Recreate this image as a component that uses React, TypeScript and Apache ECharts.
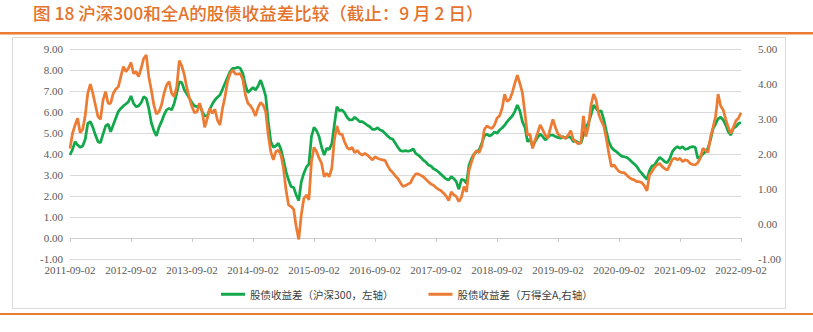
import React, { useEffect, useRef } from "react";
import * as echarts from "echarts";

const titleText = "图 18 沪深300和全A的股债收益差比较（截止：9 月 2 日）";
const seriesNames = ["股债收益差（沪深300，左轴）", "股债收益差（万得全A,右轴）"];
const leftRange = [-1, 9];
const rightRange = [-1, 5];
const labelEvery = 24; // one x label per year (semi-monthly points)

// semi-monthly observation dates from 2011-09-02 to 2022-09-02
const dates: string[] = [];
for (let i = 0; i <= 264; i++) {
  const m = 8 + Math.floor(i / 2);
  const y = 2011 + Math.floor(m / 12);
  const mm = String((m % 12) + 1).padStart(2, "0");
  dates.push(`${y}-${mm}-${i % 2 === 0 ? "02" : "17"}`);
}

// 股债收益差（沪深300，左轴）
const hs300 = [
  3.95, 4.22, 4.59, 4.43, 4.32, 4.38, 4.7, 5.46, 5.54, 5.27, 4.9, 4.59, 4.54, 4.95, 5.33, 5.43, 5.06, 5.38, 5.7, 6.02, 6.17, 6.29, 6.38, 6.49, 6.76,
  6.41, 6.25, 6.29, 6.44, 6.73, 6.65, 6.17, 5.49, 5.11, 4.86, 5.27, 5.54, 5.86, 6.1, 6.17, 6.1, 6.41, 6.89, 7.44, 7.4, 7.05, 6.86, 6.65, 6.44,
  6.29, 6.25, 6.33, 6.02, 5.81, 5.81, 6.13, 6.38, 6.57, 6.7, 6.81, 7.08, 7.37, 7.65, 7.92, 8.08,
  8.08, 8.13, 8.08, 7.84, 7.29, 6.92, 7.05, 7.17, 7.05, 7.24, 7.52, 7.17, 6.76, 5.54, 4.59, 4.32, 4.38, 4.51, 4.22, 3.71, 3.16, 2.76, 2.44, 2.41, 2.05,
  1.78, 2.68, 3.08, 3.37, 3.52, 4.83, 5.27, 5.11, 4.83, 4.32, 3.95, 4.27, 4.22, 4.48, 5.38, 6.25, 6.06, 6.1, 5.97, 5.75, 5.62, 5.62, 5.75, 5.65, 5.54,
  5.54, 5.46, 5.37, 5.3, 5.17, 5.17, 5.25, 5.14, 5.1, 4.98, 4.86, 4.75, 4.7, 4.51, 4.32, 4.16,
  4.13, 4.16, 4.13, 4.16, 4.25, 4.03, 3.95, 3.84, 3.71, 3.62, 3.48, 3.43, 3.3, 3.24, 3.14, 3.03, 2.92, 2.81, 2.76, 2.92, 2.83, 2.68, 2.32, 2.79, 2.76,
  2.6, 3.48, 3.79, 4.0, 4.11, 4.19, 4.51, 4.86, 4.95, 4.86, 4.92, 5.05, 4.98, 5.14, 5.24, 5.37, 5.54, 5.68, 5.81, 6.02, 6.33, 6.06, 5.54, 5.27, 4.59,
  4.7, 4.38, 4.59, 4.79, 4.95, 4.83, 4.67, 4.79, 4.9, 4.9, 4.83, 4.79, 4.75, 4.83, 4.75, 4.83, 4.79, 4.59,
  4.63, 4.54, 4.51, 4.9, 5.27, 5.49, 5.86, 6.33, 6.17, 6.02, 6.06, 5.65, 5.11, 4.59, 4.32, 4.19, 4.11, 4.0, 3.9, 3.87, 3.84, 3.75, 3.63, 3.52, 3.4,
  3.21, 3.08, 2.92, 2.79, 3.21, 3.43, 3.48, 3.68, 3.84, 3.75, 3.63, 3.59, 3.79, 4.11, 4.27, 4.35, 4.27, 4.35, 4.22, 4.25, 4.32, 4.35, 4.32, 3.79, 3.87,
  4.0, 4.1, 4.27, 4.67, 5.21, 5.43, 5.68, 5.75, 5.62, 5.38, 5.06, 4.9, 5.22, 5.3, 5.45, 5.5,
];

// 股债收益差（万得全A,右轴）
const windA = [
  2.16, 2.59, 2.83, 3.02, 2.61, 2.7, 3.11, 3.73, 4.0, 3.73, 3.4, 3.07, 2.99, 3.54, 3.78, 3.45, 3.45, 3.73, 3.85, 3.92, 4.21, 4.5, 4.35, 4.45, 4.61,
  4.3, 4.35, 4.21, 4.45, 4.73, 4.83, 4.21, 3.83, 3.4, 3.14, 3.21, 3.4, 3.73, 3.97, 4.07, 3.73, 3.64, 3.92, 4.67, 4.51, 4.26, 3.88, 3.59, 3.35,
  3.18, 3.21, 3.45, 3.21, 2.76, 3.02, 3.3, 3.16, 3.28, 2.97, 2.83, 3.3, 3.64, 4.07, 4.3, 4.4,
  4.29, 4.28, 4.3, 4.13, 3.69, 3.45, 3.38, 3.26, 3.09, 3.33, 3.47, 3.4, 3.21, 2.54, 2.07, 1.83, 2.07, 2.11, 1.97, 1.59, 0.97, 0.54, 0.5, 0.42, -0.08,
  -0.44, 0.26, 0.73, 0.83, 0.69, 1.78, 2.19, 2.07, 1.88, 1.73, 1.35, 1.45, 1.35, 1.59, 2.4, 2.8, 2.57, 2.57, 2.35, 2.19, 2.13, 2.19, 2.04, 2.1, 2.02,
  1.97, 2.02, 1.97, 1.9, 1.83, 1.92, 1.88, 1.85, 1.83, 1.81, 1.66, 1.54, 1.47, 1.37, 1.3, 1.18,
  1.07, 1.1, 1.14, 1.18, 1.33, 1.43, 1.43, 1.39, 1.35, 1.28, 1.21, 1.14, 1.11, 1.04, 0.99, 0.95, 0.88, 0.8, 0.67, 0.92, 0.83, 0.78, 0.64, 0.76, 1.07,
  0.92, 1.54, 1.78, 2.0, 2.1, 2.04, 2.23, 2.7, 2.8, 2.76, 2.73, 2.83, 3.02, 3.09, 3.3, 3.71, 3.5, 3.56, 3.75, 4.02, 4.25, 4.02, 3.75, 3.16, 2.54,
  2.57, 2.16, 2.4, 2.61, 2.83, 2.69, 2.54, 2.45, 2.73, 2.99, 2.76, 2.57, 2.51, 2.48, 2.45, 2.54, 2.67, 2.42,
  2.35, 2.29, 2.32, 3.09, 2.5, 2.8, 3.4, 3.71, 3.54, 3.14, 2.95, 2.8, 2.45, 2.02, 1.64, 1.69, 1.59, 1.5, 1.47, 1.47, 1.4, 1.33, 1.28, 1.26, 1.21,
  1.21, 1.18, 1.09, 0.95, 1.4, 1.5, 1.62, 1.69, 1.73, 1.64, 1.58, 1.54, 1.69, 1.85, 1.88, 1.83, 1.88, 1.78, 1.83, 1.81, 1.73, 1.7, 1.69, 1.75, 1.88,
  2.16, 2.11, 2.04, 2.48, 2.76, 3.07, 3.71, 3.37, 3.26, 2.99, 2.76, 2.59, 2.76, 2.95, 3.02, 3.18,
];

const GREEN = "#12A84B";
const ORANGE = "#EC7B33";
const TITLE_ORANGE = "#E4722A";
const CJK = "Noto Sans CJK SC";
const SERIF = "Liberation Serif";

export default function App() {
  const ref = useRef<HTMLDivElement>(null);
  useEffect(() => {
    if (!ref.current) return;
    const chart = echarts.init(ref.current, undefined, { renderer: "svg" });
    const axisLabelStyle = { fontFamily: SERIF, fontSize: 11, color: "#595959" };
    chart.setOption({
      animation: false,
      title: {
        text: titleText,
        left: 33,
        top: 3,
        padding: 0,
        textStyle: { fontFamily: CJK, fontSize: 17.5, lineHeight: 18, fontWeight: 500, color: TITLE_ORANGE },
      },
      legend: {
        data: seriesNames,
        left: 221,
        top: 289,
        padding: 0,
        icon: "rect",
        itemWidth: 24,
        itemHeight: 3,
        itemGap: 35,
        textStyle: { fontFamily: CJK, fontSize: 10.5, color: "#404040" },
      },
      grid: { left: 70, right: 72, top: 49, bottom: 73, containLabel: false, outerBoundsMode: "none" },
      xAxis: [
        {
          type: "category",
          data: dates,
          boundaryGap: false,
          position: "bottom",
          axisLine: { show: false, onZero: false },
          axisTick: { show: false },
          splitLine: { show: false },
          axisLabel: { ...axisLabelStyle, interval: labelEvery - 1, margin: 5 },
        },
        {
          type: "category",
          data: dates,
          boundaryGap: false,
          position: "bottom",
          axisLine: { show: true, onZero: true, onZeroAxisIndex: 0, lineStyle: { color: "#D0D0D0", width: 1 } },
          axisTick: { show: true, interval: labelEvery - 1, length: 4, lineStyle: { color: "#C8C8C8" } },
          axisLabel: { show: false },
          splitLine: { show: false },
        },
      ],
      yAxis: [
        {
          type: "value",
          min: leftRange[0],
          max: leftRange[1],
          interval: 1,
          position: "left",
          axisLine: { show: false },
          axisTick: { show: false },
          axisLabel: { ...axisLabelStyle, margin: 7, formatter: (v: number) => v.toFixed(2) },
          splitLine: { show: true, lineStyle: { color: "#D9D9D9", width: 1 } },
        },
        {
          type: "value",
          min: rightRange[0],
          max: rightRange[1],
          interval: 1,
          position: "right",
          axisLine: { show: false },
          axisTick: { show: false },
          axisLabel: { ...axisLabelStyle, margin: 17, formatter: (v: number) => v.toFixed(2) },
          splitLine: { show: false },
        },
      ],
      series: [
        {
          name: seriesNames[0],
          type: "line",
          xAxisIndex: 0,
          yAxisIndex: 0,
          data: hs300,
          showSymbol: false,
          symbol: "none",
          lineStyle: { color: GREEN, width: 2.75 },
          itemStyle: { color: GREEN },
        },
        {
          name: seriesNames[1],
          type: "line",
          xAxisIndex: 0,
          yAxisIndex: 1,
          data: windA,
          showSymbol: false,
          symbol: "none",
          lineStyle: { color: ORANGE, width: 2.75 },
          itemStyle: { color: ORANGE },
        },
      ],
      graphic: [
        { type: "rect", shape: { x: 0, y: 32, width: 813, height: 2.5 }, style: { fill: ORANGE } },
        {
          type: "rect",
          shape: { x: 12.5, y: 37.5, width: 773, height: 271 },
          style: { fill: "none", stroke: "#D9D9D9", lineWidth: 1 },
          silent: true,
        },
        { type: "rect", shape: { x: 0, y: 313, width: 813, height: 2 }, style: { fill: ORANGE } },
      ],
    });
    return () => chart.dispose();
  }, []);
  return (
    <div
      ref={ref}
      style={{ position: "absolute", left: 0, top: 0, width: 813, height: 332, background: "#fff" }}
    />
  );
}
